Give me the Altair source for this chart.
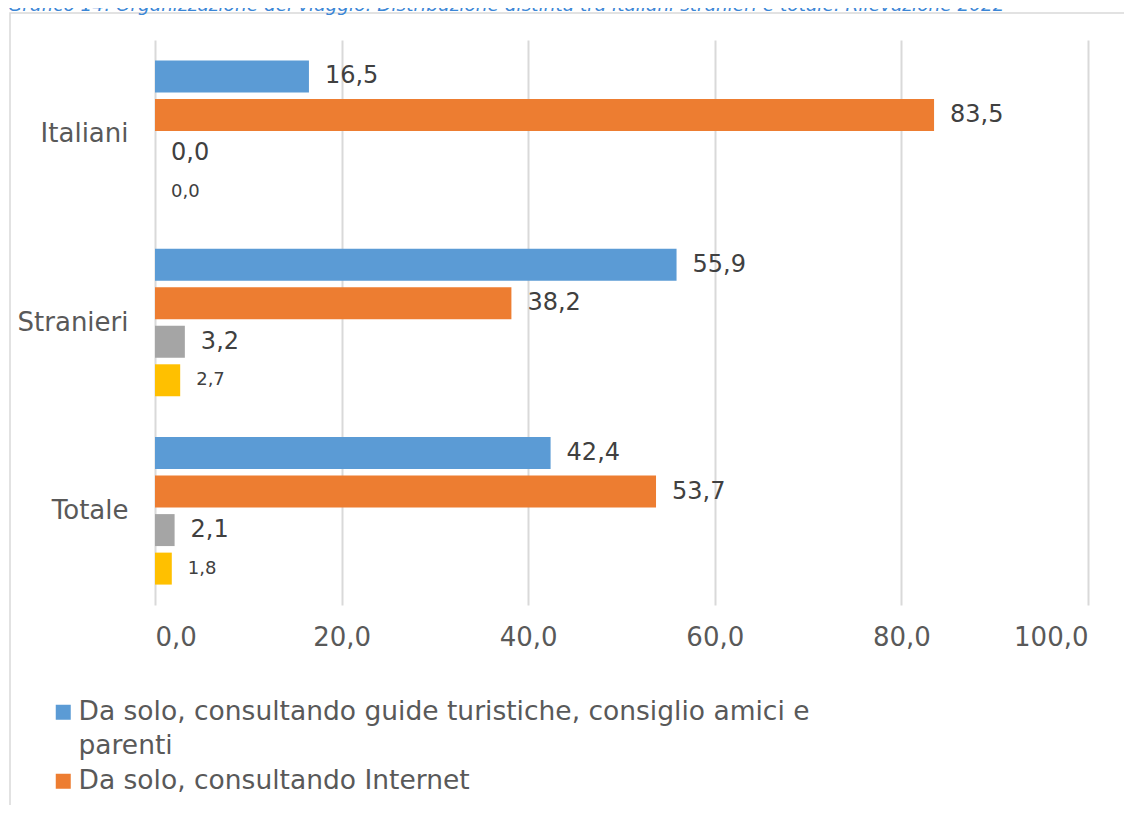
import altair as alt
import pandas as pd

categories = ["Italiani", "Stranieri", "Totale"]
series = [
    "Da solo, consultando guide turistiche, consiglio amici e parenti",
    "Da solo, consultando Internet",
    "Tramite agenzia di viaggio",
    "Altro",
]
colors = ["#5B9BD5", "#ED7D31", "#A5A5A5", "#FFC000"]
values_s1 = [16.5, 55.9, 42.4]
values_s2 = [83.5, 38.2, 53.7]
values_s3 = [0.0, 3.2, 2.1]
values_s4 = [0.0, 2.7, 1.8]
x_ticks = [0, 20, 40, 60, 80, 100]
title_text = "Grafico 14. Organizzazione del viaggio. Distribuzione distinta tra italiani stranieri e totale. Rilevazione 2022"

rows = []
for vals, s in zip([values_s1, values_s2, values_s3, values_s4], series):
    for c, v in zip(categories, vals):
        rows.append({"cat": c, "serie": s, "val": v})
df = pd.DataFrame(rows)

FONT = "DejaVu Sans"

y_enc = alt.Y("cat:N", sort=categories,
              scale=alt.Scale(paddingInner=0, paddingOuter=0),
              axis=alt.Axis(title=None, domain=False, ticks=False, tickSize=0,
                            labelPadding=27, labelFontSize=26, labelColor="#595959",
                            labelFont=FONT, grid=False))
yoff_enc = alt.YOffset("serie:N", sort=series,
                       scale=alt.Scale(paddingInner=0.17, paddingOuter=0.53))
x_enc = alt.X("val:Q", scale=alt.Scale(domain=[0, 100], nice=False),
              axis=alt.Axis(title=None, values=x_ticks, domain=False, ticks=False, tickSize=0,
                            labelPadding=19, labelFontSize=26, labelColor="#595959",
                            labelFont=FONT, grid=True, gridColor="#D9D9D9", gridWidth=2,
                            labelExpr="replace(format(datum.value, '.1f'), '.', ',')"))

legend_expr = ("datum.label == 'Da solo, consultando guide turistiche, consiglio amici e parenti' ? "
               "['Da solo, consultando guide turistiche, consiglio amici e', 'parenti'] : datum.label")

bars = alt.Chart(df).mark_bar().encode(
    y=y_enc,
    yOffset=yoff_enc,
    x=x_enc,
    color=alt.Color("serie:N", sort=series,
                    scale=alt.Scale(domain=series, range=colors),
                    legend=alt.Legend(title=None, orient="none", legendX=-105, legendY=659,
                                      values=series[:2], symbolType="square", symbolSize=225,
                                      symbolStrokeWidth=0, labelFontSize=26.5, labelFont=FONT,
                                      labelColor="#595959", labelLimit=1000, labelOffset=2,
                                      rowPadding=8, padding=0, labelExpr=legend_expr)),
)

labels = alt.Chart(df).transform_calculate(
    lab="replace(format(datum.val, '.1f'), '.', ',')"
).mark_text(align="left", baseline="middle", dx=16, font=FONT, color="#404040").encode(
    y=alt.Y("cat:N", sort=categories),
    yOffset=alt.YOffset("serie:N", sort=series),
    x=alt.X("val:Q"),
    text="lab:N",
    size=alt.condition(alt.datum.serie == series[3], alt.value(18), alt.value(24)),
)

frame = alt.Chart(pd.DataFrame({"k": [1]})).mark_rect(
    fill="transparent", stroke="#D9D9D9", strokeWidth=1.5
).encode(x=alt.value(-145), x2=alt.value(1300), y=alt.value(-27), y2=alt.value(1000))

title = alt.Chart(pd.DataFrame({"t": [title_text]})).mark_text(
    align="left", baseline="alphabetic", font=FONT, fontSize=18.5, fontStyle="italic",
    color="#3B86D6"
).encode(text="t:N", x=alt.value(-147), y=alt.value(-29))

chart = alt.layer(frame, bars, labels, title).properties(
    width=933, height=565,
    autosize=alt.AutoSizeParams(type="none"),
    padding={"left": 147, "top": 32, "right": 36, "bottom": 200},
).configure(style={"guide-label": {"lineHeight": 34}}).configure_view(strokeWidth=0)

chart.save("out.html", embed_options={"renderer": "svg", "actions": False})
